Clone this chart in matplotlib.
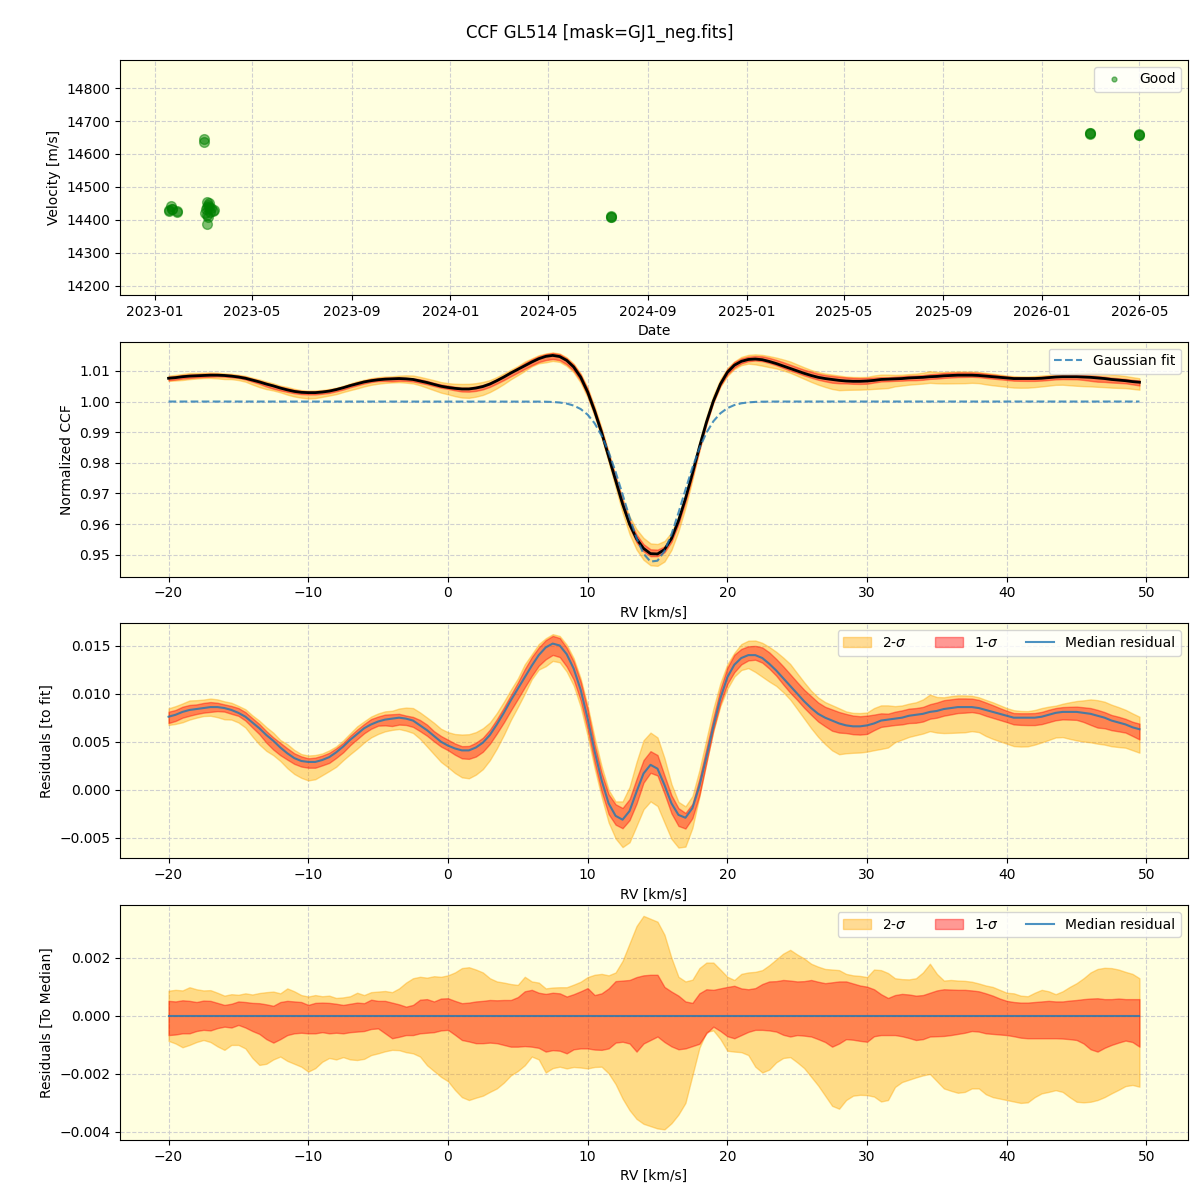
import numpy as np
import pandas as pd
import matplotlib
matplotlib.use("Agg")
import matplotlib.pyplot as plt
import matplotlib.dates as mdates

# --- velocity time series (Good points) ---
obs_dates = ["2023-01-18", "2023-01-18", "2023-01-21", "2023-01-22", "2023-01-22", "2023-01-28", "2023-01-28",
             "2023-03-03", "2023-03-03",
             "2023-03-04", "2023-03-05", "2023-03-06", "2023-03-06", "2023-03-07",
             "2023-03-07", "2023-03-08", "2023-03-08", "2023-03-09", "2023-03-09",
             "2023-03-10", "2023-03-12", "2023-03-14", "2023-03-15",
             "2024-07-17", "2024-07-17", "2024-07-17",
             "2026-03-01", "2026-03-01", "2026-03-01",
             "2026-05-01", "2026-05-01", "2026-05-01"]
obs_vel = [14427, 14429, 14441, 14432, 14434, 14427, 14425,
           14645, 14636,
           14420, 14432, 14440, 14415, 14455,
           14388, 14446, 14410, 14452, 14440,
           14425, 14435, 14428, 14430,
           14410, 14412, 14409,
           14662, 14665, 14663,
           14657, 14660, 14658]

# --- CCF grid and Gaussian fit ---
rv = np.arange(-20.0, 50.0, 0.5)
gauss_base = 1.0
gauss_depth = 0.0525
gauss_center = 14.7
gauss_sigma = 2.1

# median residual to the fit, one value per rv step
res_med = [
    0.0076, 0.0078, 0.0081, 0.0083, 0.0084, 0.0085, 0.0086, 0.0086, 0.0085, 0.0083,
    0.0080, 0.0076, 0.0070, 0.0064, 0.0057, 0.0051, 0.0044, 0.0038, 0.0033, 0.0030,
    0.0029, 0.0029, 0.0031, 0.0034, 0.0039, 0.0045, 0.0052, 0.0058, 0.0064, 0.0068,
    0.0071, 0.0073, 0.0074, 0.0075, 0.0074, 0.0072, 0.0067, 0.0062, 0.0056, 0.0050,
    0.0046, 0.0043, 0.0041, 0.0041, 0.0044, 0.0049, 0.0057, 0.0068, 0.0080, 0.0093,
    0.0105, 0.0117, 0.0129, 0.0140, 0.0148, 0.0152, 0.0150, 0.0141, 0.0126, 0.0104,
    0.0074, 0.0040, 0.0010, -0.0014, -0.0027, -0.0031, -0.0022, -0.0002, 0.0017, 0.0026,
    0.0022, 0.0005, -0.0014, -0.0026, -0.0029, -0.0019, 0.0004, 0.0034, 0.0066, 0.0095,
    0.0117, 0.0130, 0.0137, 0.0140, 0.0140, 0.0137, 0.0131, 0.0124, 0.0116, 0.0108,
    0.0100, 0.0092, 0.0085, 0.0079, 0.0075, 0.0072, 0.0069, 0.0067, 0.0066, 0.0066,
    0.0067, 0.0069, 0.0072, 0.0073, 0.0074, 0.0075, 0.0077, 0.0078, 0.0079, 0.0081,
    0.0082, 0.0084, 0.0085, 0.0086, 0.0086, 0.0086, 0.0085, 0.0083, 0.0081, 0.0079,
    0.0077, 0.0075, 0.0075, 0.0075, 0.0075, 0.0076, 0.0078, 0.0080, 0.0081, 0.0081,
    0.0081, 0.0080, 0.0079, 0.0077, 0.0075, 0.0072, 0.0070, 0.0068, 0.0065, 0.0063,
]

# percentile offsets relative to the median
dev_2s_hi = [
    0.00087, 0.00090, 0.00088, 0.00099, 0.00092, 0.00088, 0.00089, 0.00080, 0.00070, 0.00075,
    0.00073, 0.00078, 0.00074, 0.00079, 0.00082, 0.00084, 0.00078, 0.00095, 0.00085, 0.00072,
    0.00067, 0.00072, 0.00068, 0.00070, 0.00062, 0.00064, 0.00068, 0.00080, 0.00072, 0.00082,
    0.00084, 0.00086, 0.00082, 0.00095, 0.00115, 0.00130, 0.00135, 0.00132, 0.00137, 0.00135,
    0.00140, 0.00150, 0.00165, 0.00168, 0.00160, 0.00150, 0.00130, 0.00119, 0.00115, 0.00110,
    0.00107, 0.00135, 0.00119, 0.00115, 0.00095, 0.00098, 0.00099, 0.00099, 0.00108, 0.00118,
    0.00134, 0.00142, 0.00145, 0.00140, 0.00150, 0.00190, 0.00250, 0.00310, 0.00345, 0.00335,
    0.00325, 0.00280, 0.00200, 0.00135, 0.00119, 0.00125, 0.00165, 0.00184, 0.00184, 0.00160,
    0.00135, 0.00124, 0.00145, 0.00150, 0.00152, 0.00158, 0.00175, 0.00195, 0.00215, 0.00228,
    0.00212, 0.00198, 0.00180, 0.00170, 0.00162, 0.00160, 0.00158, 0.00145, 0.00140, 0.00138,
    0.00134, 0.00160, 0.00158, 0.00148, 0.00130, 0.00127, 0.00126, 0.00130, 0.00150, 0.00180,
    0.00145, 0.00122, 0.00124, 0.00122, 0.00121, 0.00118, 0.00112, 0.00105, 0.00100, 0.00090,
    0.00080, 0.00078, 0.00070, 0.00068, 0.00080, 0.00090, 0.00085, 0.00075, 0.00085, 0.00100,
    0.00113, 0.00130, 0.00150, 0.00162, 0.00166, 0.00165, 0.00160, 0.00152, 0.00145, 0.00130,
]
dev_1s_hi = [
    0.00052, 0.00050, 0.00054, 0.00052, 0.00048, 0.00053, 0.00052, 0.00045, 0.00038, 0.00042,
    0.00050, 0.00048, 0.00045, 0.00044, 0.00040, 0.00035, 0.00048, 0.00052, 0.00050, 0.00048,
    0.00038, 0.00045, 0.00046, 0.00045, 0.00042, 0.00038, 0.00042, 0.00046, 0.00044, 0.00056,
    0.00052, 0.00052, 0.00046, 0.00040, 0.00032, 0.00038, 0.00056, 0.00058, 0.00050, 0.00060,
    0.00061, 0.00052, 0.00044, 0.00046, 0.00050, 0.00052, 0.00055, 0.00054, 0.00055, 0.00055,
    0.00065, 0.00085, 0.00090, 0.00080, 0.00076, 0.00080, 0.00078, 0.00067, 0.00075, 0.00085,
    0.00096, 0.00072, 0.00078, 0.00095, 0.00120, 0.00122, 0.00124, 0.00134, 0.00140, 0.00142,
    0.00142, 0.00100, 0.00084, 0.00070, 0.00050, 0.00045, 0.00078, 0.00092, 0.00090, 0.00095,
    0.00100, 0.00104, 0.00095, 0.00092, 0.00096, 0.00110, 0.00119, 0.00120, 0.00124, 0.00122,
    0.00119, 0.00120, 0.00124, 0.00118, 0.00113, 0.00116, 0.00119, 0.00119, 0.00112, 0.00105,
    0.00101, 0.00092, 0.00075, 0.00062, 0.00072, 0.00076, 0.00074, 0.00070, 0.00072, 0.00080,
    0.00088, 0.00092, 0.00091, 0.00090, 0.00090, 0.00088, 0.00085, 0.00078, 0.00070, 0.00060,
    0.00052, 0.00048, 0.00046, 0.00046, 0.00048, 0.00050, 0.00052, 0.00050, 0.00050, 0.00053,
    0.00055, 0.00058, 0.00060, 0.00061, 0.00058, 0.00058, 0.00060, 0.00058, 0.00058, 0.00058,
]
dev_1s_lo = [
    -0.00066, -0.00064, -0.00060, -0.00060, -0.00052, -0.00048, -0.00050, -0.00042, -0.00037, -0.00040,
    -0.00031, -0.00040, -0.00052, -0.00062, -0.00080, -0.00092, -0.00080, -0.00066, -0.00060, -0.00058,
    -0.00060, -0.00060, -0.00056, -0.00060, -0.00058, -0.00060, -0.00056, -0.00054, -0.00052, -0.00045,
    -0.00043, -0.00060, -0.00077, -0.00072, -0.00066, -0.00066, -0.00060, -0.00058, -0.00056, -0.00050,
    -0.00048, -0.00065, -0.00083, -0.00088, -0.00094, -0.00094, -0.00092, -0.00094, -0.00100, -0.00106,
    -0.00106, -0.00104, -0.00106, -0.00110, -0.00123, -0.00118, -0.00120, -0.00129, -0.00115, -0.00112,
    -0.00112, -0.00116, -0.00117, -0.00112, -0.00092, -0.00089, -0.00095, -0.00123, -0.00095, -0.00083,
    -0.00071, -0.00090, -0.00105, -0.00115, -0.00112, -0.00104, -0.00096, -0.00060, -0.00037, -0.00052,
    -0.00070, -0.00077, -0.00066, -0.00055, -0.00048, -0.00048, -0.00050, -0.00054, -0.00065, -0.00071,
    -0.00066, -0.00068, -0.00071, -0.00080, -0.00090, -0.00106, -0.00095, -0.00080, -0.00082, -0.00086,
    -0.00089, -0.00070, -0.00066, -0.00066, -0.00066, -0.00070, -0.00076, -0.00083, -0.00080, -0.00071,
    -0.00070, -0.00069, -0.00066, -0.00062, -0.00058, -0.00052, -0.00054, -0.00060, -0.00062, -0.00064,
    -0.00066, -0.00070, -0.00075, -0.00077, -0.00077, -0.00077, -0.00077, -0.00077, -0.00078, -0.00080,
    -0.00083, -0.00095, -0.00115, -0.00123, -0.00110, -0.00100, -0.00092, -0.00085, -0.00090, -0.00106,
]
dev_2s_lo = [
    -0.00086, -0.00095, -0.00108, -0.00100, -0.00090, -0.00083, -0.00090, -0.00105, -0.00117, -0.00100,
    -0.00100, -0.00112, -0.00145, -0.00169, -0.00165, -0.00150, -0.00140, -0.00155, -0.00165, -0.00175,
    -0.00192, -0.00180, -0.00158, -0.00145, -0.00150, -0.00142, -0.00150, -0.00152, -0.00148, -0.00135,
    -0.00129, -0.00122, -0.00117, -0.00118, -0.00125, -0.00129, -0.00140, -0.00170, -0.00190, -0.00210,
    -0.00225, -0.00255, -0.00280, -0.00290, -0.00282, -0.00275, -0.00262, -0.00250, -0.00230, -0.00205,
    -0.00190, -0.00170, -0.00140, -0.00150, -0.00195, -0.00180, -0.00175, -0.00181, -0.00176, -0.00178,
    -0.00181, -0.00176, -0.00175, -0.00198, -0.00235, -0.00285, -0.00325, -0.00355, -0.00372, -0.00380,
    -0.00388, -0.00391, -0.00370, -0.00340, -0.00300, -0.00205, -0.00110, -0.00055, -0.00050, -0.00080,
    -0.00120, -0.00123, -0.00125, -0.00135, -0.00175, -0.00195, -0.00185, -0.00160, -0.00145, -0.00142,
    -0.00160, -0.00180, -0.00210, -0.00240, -0.00275, -0.00310, -0.00320, -0.00290, -0.00275, -0.00272,
    -0.00273, -0.00278, -0.00295, -0.00290, -0.00245, -0.00228, -0.00220, -0.00212, -0.00205, -0.00200,
    -0.00225, -0.00250, -0.00258, -0.00265, -0.00262, -0.00250, -0.00250, -0.00270, -0.00280, -0.00285,
    -0.00290, -0.00295, -0.00300, -0.00298, -0.00280, -0.00267, -0.00262, -0.00256, -0.00262, -0.00280,
    -0.00296, -0.00298, -0.00296, -0.00290, -0.00280, -0.00267, -0.00255, -0.00242, -0.00238, -0.00244,
]

res_med = np.array(res_med)
d2h, d1h = np.array(dev_2s_hi), np.array(dev_1s_hi)
d1l, d2l = np.array(dev_1s_lo), np.array(dev_2s_lo)

gauss = gauss_base - gauss_depth * np.exp(-0.5 * ((rv - gauss_center) / gauss_sigma) ** 2)
ccf_med = gauss + res_med

bg = "lightyellow"
c2 = "orange"
c1 = "red"

fig, axes = plt.subplots(4, 1, figsize=(12, 12), dpi=100)
fig.subplots_adjust(left=0.1, right=0.99, top=0.95, bottom=0.05, hspace=0.2)
fig.suptitle("CCF GL514 [mask=GJ1_neg.fits]", y=0.98, fontsize=12)

for ax in axes:
    ax.set_facecolor(bg)
    ax.grid(True, linestyle="--", color="#d0d0d0", linewidth=0.8)
    ax.set_axisbelow(True)

# panel 1: velocities
ax = axes[0]
t = pd.to_datetime(obs_dates)
ax.plot(t, obs_vel, "o", color="green", alpha=0.5, ms=7, label="Good")
ax.set_ylim(14173, 14885)
ax.xaxis.set_major_locator(mdates.MonthLocator(bymonth=[1, 5, 9]))
ax.xaxis.set_major_formatter(mdates.DateFormatter("%Y-%m"))
ax.set_xlabel("Date")
ax.set_ylabel("Velocity [m/s]")
ax.legend(loc="upper right", markerscale=0.5)

# panel 2: CCF with bands
ax = axes[1]
ax.fill_between(rv, ccf_med + d2l, ccf_med + d2h, color=c2, alpha=0.4)
ax.fill_between(rv, ccf_med + d1l, ccf_med + d1h, color=c1, alpha=0.4)
ax.plot(rv, ccf_med, color="black", lw=2)
ax.plot(rv, gauss, "--", color="C0", alpha=0.8, lw=1.5, label="Gaussian fit")
ax.set_xlabel("RV [km/s]")
ax.set_ylabel("Normalized CCF")
ax.legend(loc="upper right")

# panel 3: residuals to fit
ax = axes[2]
ax.fill_between(rv, res_med + d2l, res_med + d2h, color=c2, alpha=0.4, label=r"2-$\sigma$")
ax.fill_between(rv, res_med + d1l, res_med + d1h, color=c1, alpha=0.4, label=r"1-$\sigma$")
ax.plot(rv, res_med, color="C0", alpha=0.8, lw=1.5, label="Median residual")
ax.set_xlabel("RV [km/s]")
ax.set_ylabel("Residuals [to fit]")
ax.legend(loc="upper right", ncol=3)

# panel 4: residuals to median
ax = axes[3]
ax.fill_between(rv, d2l, d2h, color=c2, alpha=0.4, label=r"2-$\sigma$")
ax.fill_between(rv, d1l, d1h, color=c1, alpha=0.4, label=r"1-$\sigma$")
ax.plot(rv, np.zeros_like(rv), color="C0", alpha=0.8, lw=1.5, label="Median residual")
ax.set_xlabel("RV [km/s]")
ax.set_ylabel("Residuals [To Median]")
ax.legend(loc="upper right", ncol=3)

fig.savefig("out.png", dpi=100)
